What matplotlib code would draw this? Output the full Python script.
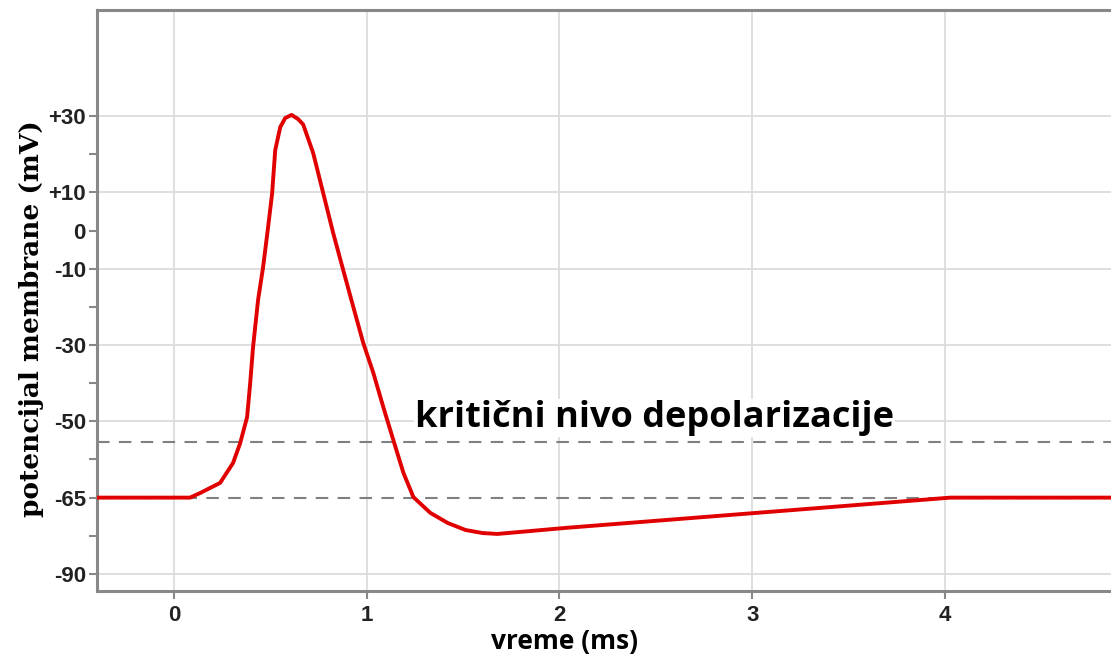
import numpy as np
import matplotlib
matplotlib.use("Agg")
import matplotlib.pyplot as plt

# action potential trace (time in ms, potential in mV)
TIME_MS = [-0.40, 0.083, 0.135, 0.239, 0.306, 0.343, 0.379, 0.395, 0.410, 0.436,
           0.462, 0.488, 0.509, 0.525, 0.551, 0.577, 0.610, 0.644, 0.670, 0.722,
           0.774, 0.826, 0.878, 0.930, 0.982, 1.034, 1.086, 1.138, 1.190, 1.242,
           1.330, 1.420, 1.512, 1.600, 1.678, 2.036, 3.023, 4.030, 4.920]
POTENTIAL_MV = [-65, -65, -64.1, -62.1, -58.2, -54.3, -48.9, -40.0, -30.5, -18.2,
                -9.6, 0.9, 9.8, 21.1, 27.1, 29.5, 30.3, 29.2, 27.8, 20.3,
                9.8, -0.7, -10.4, -20.0, -29.5, -37.3, -46.3, -53.7, -60.1, -64.9,
                -70.0, -73.3, -75.6, -76.6, -76.9, -74.9, -70.0, -65, -65]

REST_MV = -65
THRESHOLD_MV = -54

# y axis: the labelled ticks are evenly spaced although the mV steps are not
Y_MAJOR = [30, 10, 0, -10, -30, -50, -65, -90]
Y_MAJOR_LABELS = ["+30", "+10", "0", "-10", "-30", "-50", "-65", "-90"]
Y_MINOR = [20, -20, -40, -57.5, -77.5]
Y_GRID = [30, 10, -10, -30, -50, -90]
X_TICKS = [0, 1, 2, 3, 4]

# piecewise mapping mV -> evenly spaced tick slots
SCALE_MV = [-115, -90, -77.5, -65, -57.5, -50, -40, -30, -20, -10, 0, 10, 20, 30, 80]
SCALE_SLOT = [-2, 0, 1, 2, 3, 4, 5, 6, 7, 8, 9, 10, 11, 12, 17]


def forward(v):
    return np.interp(v, SCALE_MV, SCALE_SLOT)


def inverse(u):
    return np.interp(u, SCALE_SLOT, SCALE_MV)


fig = plt.figure(figsize=(11.11, 6.54), dpi=100)
ax = fig.add_axes([0.0873, 0.0963, 0.9227, 0.8884])
ax.set_yscale("function", functions=(forward, inverse))
ax.set_xlim(-0.40, 4.92)
ax.set_ylim(-95.6, 57.8)

# grid
for x in X_TICKS:
    ax.axvline(x, color="#dcdcdc", lw=1.3, zorder=0)
for y in Y_GRID:
    ax.axhline(y, color="#dcdcdc", lw=1.3, zorder=0)

# rest and threshold levels
for y in [THRESHOLD_MV, REST_MV]:
    ax.axhline(y, color="#808080", lw=1.5, dashes=(6, 4.5), zorder=2)

ax.plot(TIME_MS, POTENTIAL_MV, color="#e00000", lw=2.8, zorder=3,
        solid_capstyle="round", solid_joinstyle="round")

ax.text(1.25, -51.1, "kritični nivo depolarizacije", fontsize=26, fontweight="bold",
        family="Open Sans", color="black", va="baseline", ha="left", zorder=1.5,
        bbox=dict(facecolor="white", edgecolor="none", pad=0.5))

# ticks
ax.set_yticks(Y_MAJOR)
ax.set_yticklabels(Y_MAJOR_LABELS)
ax.set_yticks(Y_MINOR, minor=True)
ax.set_xticks(X_TICKS)
ax.set_xticklabels([str(x) for x in X_TICKS])
for lab in ax.get_yticklabels() + ax.get_xticklabels():
    lab.set_fontweight("bold")
    lab.set_fontsize(16)
    lab.set_family("Liberation Sans")
    lab.set_color("#222222")
ax.tick_params(axis="both", which="both", length=6, width=1.5, color="#888888", pad=2)
ax.tick_params(axis="x", pad=4)

for side in ["left", "top", "bottom"]:
    ax.spines[side].set_color("#888888")
    ax.spines[side].set_linewidth(2.2)
ax.spines["right"].set_visible(False)

ax.set_ylabel("potencijal membrane (mV)", fontsize=19, fontweight="bold",
              family="DejaVu Serif")
ax.yaxis.set_label_coords(-0.052, 0.468)
ax.set_xlabel("vreme (ms)", fontsize=19, fontweight="bold", family="Open Sans")
ax.xaxis.set_label_coords(0.456, -0.064)

fig.savefig("out.png", dpi=100)
